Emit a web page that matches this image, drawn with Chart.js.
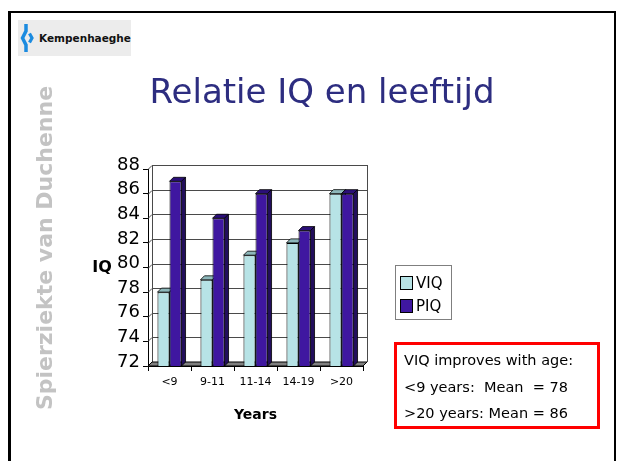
<!DOCTYPE html>
<html>
<head>
<meta charset="utf-8">
<title>Relatie IQ en leeftijd</title>
<script src="https://cdn.jsdelivr.net/npm/chart.js@4.4.1/dist/chart.umd.min.js"></script>
<style>
  body { margin: 0; width: 618px; height: 461px; overflow: hidden; background: #fff; position: relative; font-family: "DejaVu Sans", sans-serif; }
  #iqChart { position: absolute; left: 0; top: 0; }
  .frame { position: absolute; left: 8px; top: 11px; width: 603px; height: 470px; border-top: 2px solid #000; border-left: 3px solid #000; border-right: 2px solid #000; }
  .logo { position: absolute; left: 18px; top: 20px; width: 113px; height: 36px; background: #ececec; }
  .logo svg { position: absolute; left: 2px; top: 4px; }
  .logo span { position: absolute; left: 21px; top: 0; line-height: 36px; font-size: 10.5px; font-weight: bold; color: #111; }
  .title { position: absolute; left: 0; width: 644px; top: 71px; line-height: 40px; font-size: 34px; text-align: center; color: #2d2d80; }
  .side { position: absolute; left: -134.6px; top: 234.5px; width: 360px; height: 26px; line-height: 26px; font-size: 22px; font-weight: bold; color: #c3c3c3; text-align: center; transform: rotate(-90deg); white-space: nowrap; }
  .ylab { position: absolute; left: 82px; width: 40px; top: 257px; line-height: 20px; font-size: 16px; font-weight: bold; text-align: center; }
  .legend { position: absolute; left: 395px; top: 265px; width: 55px; height: 53px; border: 1px solid #7f7f7f; }
  .legend div { position: absolute; left: 4px; height: 20px; line-height: 20px; font-size: 15px; }
  .legend i { display: inline-block; width: 11px; height: 12px; border: 1px solid #000; vertical-align: -2px; margin-right: 3px; }
  .note { position: absolute; left: 394px; top: 342px; width: 193px; height: 79px; border: 3px solid #f00; padding: 2px 0 0 7px; font-size: 14.5px; line-height: 26.5px; white-space: pre; }
</style>
</head>
<body>
<canvas id="iqChart" width="618" height="461"></canvas>
<div class="frame"></div>
<div class="logo">
  <svg width="14" height="28" viewBox="0 0 14 28">
    <path d="M6 0 V7 L2.5 14 L6 21 V28" fill="none" stroke="#1b8be0" stroke-width="3.5"/>
    <path d="M9.5 9.5 L12 14 L9.5 18.5" fill="none" stroke="#1b8be0" stroke-width="3.2"/>
  </svg>
  <span>Kempenhaeghe</span>
</div>
<div class="title">Relatie IQ en leeftijd</div>
<div class="side">Spierziekte van Duchenne</div>
<div class="ylab">IQ</div>
<div class="legend" id="legend"></div>
<div class="note" id="note"></div>

<script>
// categorieen en waarden
const ageGroups = ["<9", "9-11", "11-14", "14-19", ">20"];
const viqValues = [78, 79, 81, 82, 86];
const piqValues = [87, 84, 86, 83, 86];
const seriesNames = ["VIQ", "PIQ"];
const yMin = 72;
const yMax = 88;
const yStep = 2;
const noteLines = ["VIQ improves with age:", "<9 years:  Mean  = 78", ">20 years: Mean = 86"];

// kleuren: voorkant, bovenkant, zijkant
const frontColors = ["#b7e3e6", "#3f17a0"];
const topColors = ["#8db7ba", "#2b0f78"];
const sideColors = ["#7aa2a5", "#220e5c"];

const depth = 4;

// tekent achterwand, vloer en de 3D kanten van de staven
const plot3d = {
    id: "plot3d",
    beforeDatasetsDraw(chart) {
        const ctx = chart.ctx;
        const a = chart.chartArea;
        const y = chart.scales.y;
        ctx.save();
        ctx.strokeStyle = "#4a4a4a";
        ctx.lineWidth = 1;
        y.ticks.forEach(t => {
            const py = Math.round(y.getPixelForValue(t.value)) + 0.5;
            ctx.beginPath();
            ctx.moveTo(a.left, py);
            ctx.lineTo(a.left + depth, py - depth);
            ctx.lineTo(a.right + depth, py - depth);
            ctx.stroke();
        });
        ctx.beginPath();
        ctx.moveTo(a.left + depth + 0.5, a.top - depth);
        ctx.lineTo(a.left + depth + 0.5, a.bottom - depth);
        ctx.moveTo(a.right + depth + 0.5, a.top - depth);
        ctx.lineTo(a.right + depth + 0.5, a.bottom - depth);
        ctx.stroke();

        // vloer
        ctx.fillStyle = "#808080";
        ctx.strokeStyle = "#000";
        ctx.beginPath();
        ctx.moveTo(a.left, a.bottom);
        ctx.lineTo(a.right, a.bottom);
        ctx.lineTo(a.right + depth, a.bottom - depth);
        ctx.lineTo(a.left + depth, a.bottom - depth);
        ctx.closePath();
        ctx.fill();
        ctx.stroke();

        chart.data.datasets.forEach((ds, i) => {
            chart.getDatasetMeta(i).data.forEach(bar => {
                const l = bar.x - bar.width / 2;
                const r = bar.x + bar.width / 2;
                const base = Math.min(bar.base, a.bottom);
                ctx.lineWidth = 0.8;
                ctx.strokeStyle = "#000";
                // bovenkant
                ctx.fillStyle = topColors[i];
                ctx.beginPath();
                ctx.moveTo(l, bar.y);
                ctx.lineTo(r, bar.y);
                ctx.lineTo(r + depth, bar.y - depth);
                ctx.lineTo(l + depth, bar.y - depth);
                ctx.closePath();
                ctx.fill();
                ctx.stroke();
                // zijkant
                ctx.fillStyle = sideColors[i];
                ctx.beginPath();
                ctx.moveTo(r, bar.y);
                ctx.lineTo(r + depth, bar.y - depth);
                ctx.lineTo(r + depth, base - depth);
                ctx.lineTo(r, base);
                ctx.closePath();
                ctx.fill();
                ctx.stroke();
            });
        });
        ctx.restore();
    }
};

const ctx = document.getElementById("iqChart").getContext("2d");
new Chart(ctx, {
    type: "bar",
    data: {
        labels: ageGroups,
        datasets: [
            {
                label: seriesNames[0],
                data: viqValues,
                backgroundColor: frontColors[0],
                borderColor: "#000",
                borderWidth: 1,
            },
            {
                label: seriesNames[1],
                data: piqValues,
                backgroundColor: frontColors[1],
                borderColor: "#000",
                borderWidth: 1,
            },
        ],
    },
    options: {
        responsive: false,
        animation: false,
        categoryPercentage: 0.56,
        barPercentage: 1.0,
        layout: {
            padding: { left: 98, top: 169, right: 255, bottom: 33 },
        },
        plugins: {
            legend: { display: false },
            tooltip: { enabled: false },
        },
        scales: {
            x: {
                afterFit: s => { s.height = 62; },
                grid: { offset: true, drawOnChartArea: false, tickLength: 5, color: "#000" },
                border: { color: "#000" },
                ticks: {
                    color: "#000",
                    padding: 5,
                    font: { family: "DejaVu Sans", size: 11 },
                },
                title: {
                    display: true,
                    text: "Years",
                    color: "#000",
                    font: { family: "DejaVu Sans", size: 14, weight: "bold" },
                },
            },
            y: {
                min: yMin,
                max: yMax,
                afterFit: s => { s.width = 50; },
                grid: { drawOnChartArea: false, tickLength: 5, color: "#000" },
                border: { color: "#000" },
                ticks: {
                    stepSize: yStep,
                    autoSkip: false,
                    color: "#000",
                    padding: 3,
                    labelOffset: -depth,
                    font: { family: "DejaVu Sans", size: 18 },
                },
            },
        },
    },
    plugins: [plot3d],
});

// legenda en notitie
document.getElementById("legend").innerHTML = seriesNames.map((n, i) =>
    `<div style="top:${7 + i * 23}px"><i style="background:${frontColors[i]}"></i>${n}</div>`).join("");
document.getElementById("note").textContent = noteLines.join("\n");
</script>
</body>
</html>
